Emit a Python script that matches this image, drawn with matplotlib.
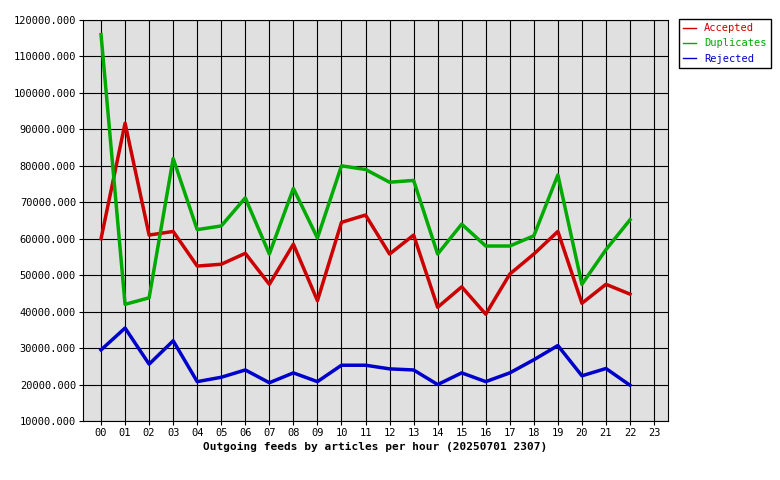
import matplotlib as mpl

mpl.use("Agg")

import matplotlib.pyplot as plt

hours = [f"{h:02d}" for h in range(24)]
accepted = [60000, 91700, 61000, 62000, 52500, 53000, 56000, 47500, 58500, 43000, 64500, 66500,
            55800, 61000, 41200, 46800, 39300, 50300, 55800, 62000, 42300, 47500, 44800]
duplicates = [116000, 42000, 43800, 82000, 62500, 63500, 71200, 55800, 73800, 60200, 80000, 79000,
              75500, 76000, 55800, 64000, 58000, 58000, 60800, 77500, 47500, 57000, 65200]
rejected = [29500, 35500, 25600, 32000, 20800, 22000, 24000, 20500, 23200, 20800, 25300, 25300,
            24300, 24000, 20000, 23200, 20800, 23200, 26800, 30700, 22400, 24400, 19800]
series = [("Accepted", accepted, "#cc0000"), ("Duplicates", duplicates, "#00aa00"),
          ("Rejected", rejected, "#0000cc")]
yticks = list(range(10000, 120001, 10000))

plt.rcParams["font.family"] = "DejaVu Sans Mono"
fig = plt.figure(figsize=(7.8, 4.8), dpi=100)
ax = fig.add_axes([83 / 780, 1 - 421 / 480, 585 / 780, 401 / 480])
ax.set_facecolor("#e0e0e0")
for name, vals, col in series:
    ax.plot(range(len(vals)), vals, color=col, lw=2.5, label=name)
ax.set_xlim(-0.75, 23.58)
ax.set_ylim(10000, 120000)
ax.set_xticks(range(24))
ax.set_xticklabels(hours, fontsize=7.5)
ax.set_yticks(yticks)
ax.set_yticklabels([f"{v}.000" for v in yticks], fontsize=7.5)
ax.grid(True, color="black", lw=0.8)
ax.tick_params(length=3, pad=2)
ax.set_xlabel("Outgoing feeds by articles per hour (20250701 2307)", fontsize=8,
              fontweight="bold", labelpad=3)
leg = fig.legend(loc="upper left", bbox_to_anchor=(679 / 780, 1 - 19 / 480), fontsize=7.5,
                 fancybox=False, edgecolor="black", handlelength=1.2, borderaxespad=0,
                 framealpha=1)
for txt, (_, _, col) in zip(leg.get_texts(), series):
    txt.set_color(col)
for line in leg.get_lines():
    line.set_linewidth(1)
fig.savefig("out.png", dpi=100)
